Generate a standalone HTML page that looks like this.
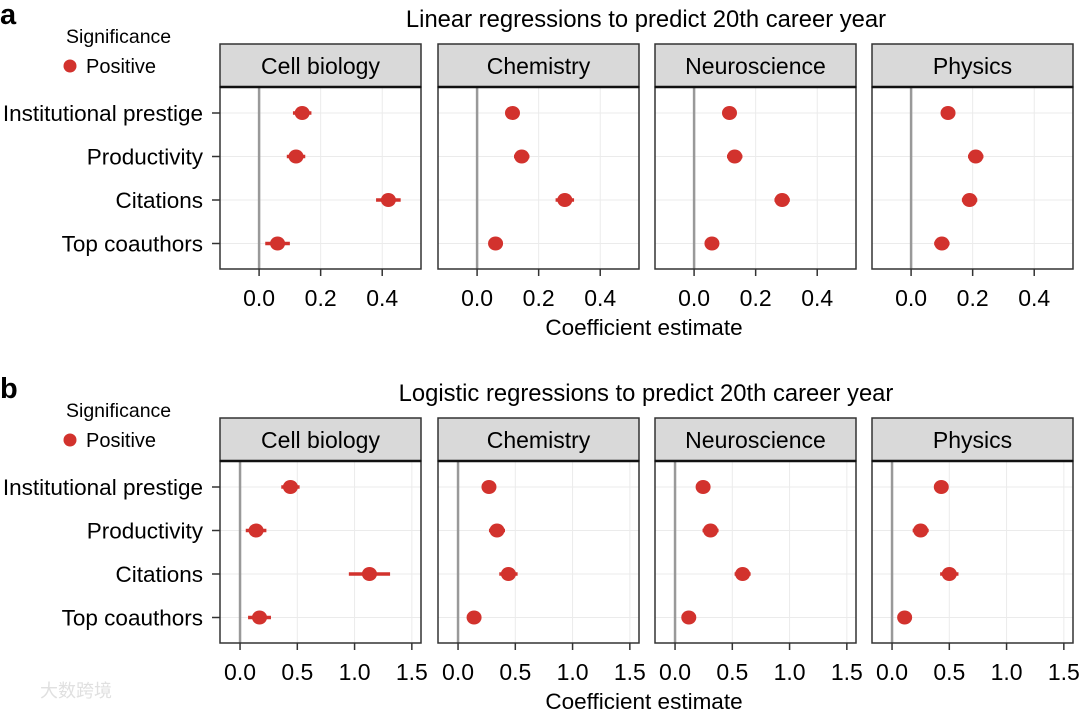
<!DOCTYPE html>
<html><head><meta charset="utf-8"><style>
body{margin:0;background:#fff;}
svg text{font-family:"Liberation Sans","Noto Sans CJK SC",sans-serif;}
</style></head><body>
<svg id="c" width="1080" height="711" xmlns="http://www.w3.org/2000/svg"></svg>
<script>
const predictors = ["Institutional prestige","Productivity","Citations","Top coauthors"];
const fields = ["Cell biology","Chemistry","Neuroscience","Physics"];
// Linear (panel a): estimate, half CI width
const linEst = [[0.14,0.12,0.42,0.06],[0.115,0.145,0.285,0.06],[0.115,0.132,0.286,0.058],[0.12,0.21,0.19,0.10]];
const linErr = [[0.03,0.03,0.04,0.04],[0.02,0.025,0.03,0.02],[0.022,0.025,0.025,0.02],[0.02,0.025,0.025,0.025]];
const linTicks = [0.0,0.2,0.4];
const linTickLabels = ["0.0","0.2","0.4"];
// Logistic (panel b)
const logEst = [[0.44,0.14,1.13,0.17],[0.27,0.34,0.44,0.14],[0.245,0.31,0.59,0.12],[0.43,0.25,0.50,0.11]];
const logErr = [[0.08,0.09,0.18,0.1],[0.06,0.07,0.08,0.06],[0.06,0.07,0.07,0.06],[0.06,0.07,0.08,0.06]];
const logTicks = [0.0,0.5,1.0,1.5];
const logTickLabels = ["0.0","0.5","1.0","1.5"];

const svg = document.getElementById('c');
const NS = "http://www.w3.org/2000/svg";
function mk(tag, attrs, text){const e=document.createElementNS(NS,tag);for(const k in attrs)e.setAttribute(k,attrs[k]);if(text!==undefined)e.textContent=text;svg.appendChild(e);return e;}

const panelX = [220,438,655,872];
const panelW = 201;

function drawBlock(cfg){
  const {top, est, err, ticks, tickLabels, dmin, dmax, title, letter, tag} = cfg;
  const stripTop = top, stripBot = top+43, plotBot = top+225;
  const rowY = i => stripBot + 26 + i*43.5;
  let t = mk('text',{x:0,y:top-20,'font-size':29,'font-weight':'bold'},letter);
  
  
  t = mk('text',{x:646,y:top-17,'font-size':23.8,'text-anchor':'middle'},title);
  
  
  t = mk('text',{x:66,y:top-1,'font-size':19.5},'Significance');
  
  
  t = mk('circle',{cx:70,cy:top+22,r:6.5,fill:'#d2322d'});
  
  
  t = mk('text',{x:86,y:top+29,'font-size':20},'Positive');
  
  
  predictors.forEach((p,i)=>{
    const l = mk('text',{x:203,y:rowY(i)+8,'font-size':22.5,'text-anchor':'end'},p);
    
    
    const tk = mk('line',{x1:212,x2:220,y1:rowY(i),y2:rowY(i),stroke:'#333','stroke-width':1.5});
    
    
  });
  fields.forEach((f,fi)=>{
    const x0 = panelX[fi];
    const sx = v => x0 + (v-dmin)/(dmax-dmin)*panelW;
    let s = mk('rect',{x:x0,y:stripTop,width:panelW,height:43,fill:'#d9d9d9',stroke:'#333','stroke-width':1.5});
    
    
    s = mk('text',{x:x0+panelW/2,y:stripTop+30,'font-size':23,'text-anchor':'middle'},f);
    
    
    s = mk('rect',{x:x0,y:stripBot,width:panelW,height:plotBot-stripBot,fill:'#fff',stroke:'none'});
    
    
    ticks.forEach((tv,ti)=>{
      const g = mk('line',{x1:sx(tv),x2:sx(tv),y1:stripBot,y2:plotBot,stroke:'#ebebeb','stroke-width':1});
      
      
      const tk = mk('line',{x1:sx(tv),x2:sx(tv),y1:plotBot,y2:plotBot+7,stroke:'#333','stroke-width':1.5});
      
      
      const lb = mk('text',{x:sx(tv),y:plotBot+37,'font-size':23,'text-anchor':'middle'},tickLabels[ti]);
      
      
    });
    predictors.forEach((p,i)=>{
      const g = mk('line',{x1:x0,x2:x0+panelW,y1:rowY(i),y2:rowY(i),stroke:'#ebebeb','stroke-width':1});
      
      
    });
    const z = mk('line',{x1:sx(0),x2:sx(0),y1:stripBot,y2:plotBot,stroke:'#999','stroke-width':2.5});
    
    
    predictors.forEach((p,i)=>{
      const v = est[fi][i], e = err[fi][i];
      const eb = mk('line',{x1:sx(v-e),x2:sx(v+e),y1:rowY(i),y2:rowY(i),stroke:'#d2322d','stroke-width':3.5});
      
      
      const pt = mk('ellipse',{cx:sx(v),cy:rowY(i),rx:7.5,ry:7,fill:'#d2322d'});
      
      
    });
    s = mk('rect',{x:x0,y:stripBot,width:panelW,height:plotBot-stripBot,fill:'none',stroke:'#333','stroke-width':1.5});
    
    
    s = mk('line',{x1:x0,x2:x0+panelW,y1:stripBot,y2:stripBot,stroke:'#111','stroke-width':2.5});
    
    
  });
  t = mk('text',{x:644,y:plotBot+66,'font-size':22.5,'text-anchor':'middle'},'Coefficient estimate');
  
  
}
drawBlock({top:44,est:linEst,err:linErr,ticks:linTicks,tickLabels:linTickLabels,dmin:-0.127,dmax:0.526,title:'Linear regressions to predict 20th career year',letter:'a',tag:'a'});
drawBlock({top:418,est:logEst,err:logErr,ticks:logTicks,tickLabels:logTickLabels,dmin:-0.175,dmax:1.58,title:'Logistic regressions to predict 20th career year',letter:'b',tag:'b'});
const w = mk('text',{x:40,y:697,'font-size':18,fill:'#e0e0e0'},'大数跨境');


</script>
</body></html>
